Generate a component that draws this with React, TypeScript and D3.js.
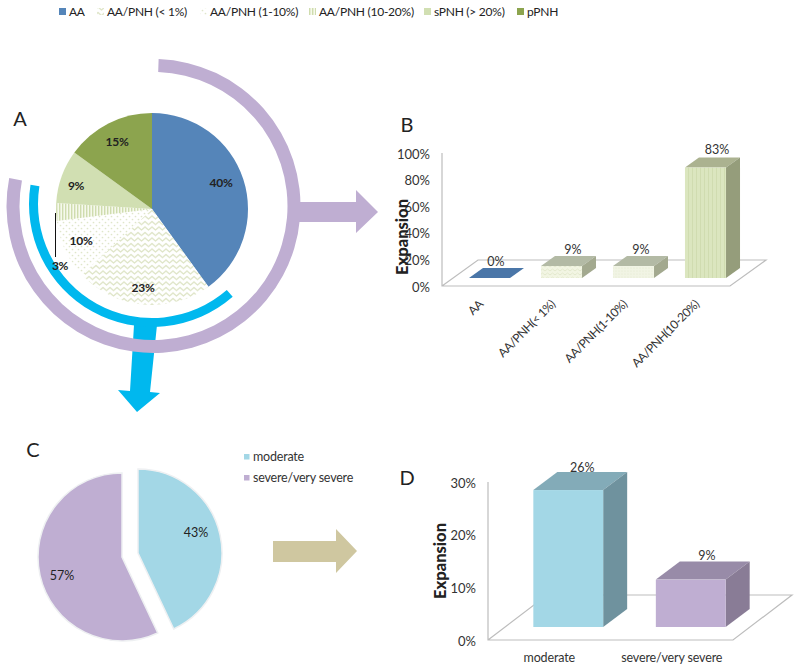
import { useEffect, useRef } from 'react';
import * as d3 from 'd3';

const FONT = 'Lato, "Open Sans", sans-serif';

// panel A
const groupNames = ['AA', 'AA/PNH (< 1%)', 'AA/PNH (1-10%)', 'AA/PNH (10-20%)', 'sPNH (> 20%)', 'pPNH'];
const groupShares = [40, 23, 10, 3, 9, 15];
const groupFills = ['#5585b9', 'url(#zigzag)', 'url(#dots)', 'url(#stripes)', '#d1dfb2', '#8ca44e'];
const legendX = [59, 97, 200, 309, 424, 517];

// panel B
const expansionCats = ['AA', 'AA/PNH(< 1%)', 'AA/PNH(1-10%)', 'AA/PNH(10-20%)'];
const expansionVals = [0, 9, 9, 83];
const expansionTicks = [0, 20, 40, 60, 80, 100];
const expansionFront = ['#4a76a8', 'url(#zigzagBar)', 'url(#dotsBar)', 'url(#stripesBar)'];
const expansionTop = ['#4a76a8', '#b3baa5', '#b3baa5', '#abb290'];
const expansionSide = ['#4a76a8', '#a3a98f', '#a3a98f', '#959d7b'];

// panel C
const severityCats = ['moderate', 'severe/very severe'];
const severityShares = [43, 57];
const severityFills = ['#a3d7e6', '#bfaed2'];

// panel D
const severityVals = [26, 9];
const severityTicks = [0, 10, 20, 30];
const severityTop = ['#83abb8', '#988ba8'];
const severitySide = ['#6f929e', '#897c96'];

type Sel = d3.Selection<SVGGElement, unknown, null, undefined>;

function label(g: Sel, x: number, y: number, text: string, size = 12, weight = 'normal', anchor = 'middle') {
  return g.append('text')
    .attr('x', x)
    .attr('y', y)
    .attr('dy', '0.35em')
    .attr('text-anchor', anchor)
    .style('font-family', FONT)
    .style('font-size', `${size}px`)
    .style('font-weight', weight)
    .style('fill', '#222')
    .text(text);
}

function arrow(g: Sel, pts: [number, number][], fill: string) {
  g.append('path').attr('d', d3.line()(pts) + 'Z').attr('fill', fill);
}

export default function App() {
  const svgRef = useRef<SVGSVGElement>(null);

  useEffect(() => {
    if (!svgRef.current) return;
    const svg = d3.select(svgRef.current);
    svg.selectAll('*').remove();

    // fill patterns
    const defs = svg.append('defs');
    const pattern = (id: string, w: number, h: number, bg: string) =>
      defs.append('pattern').attr('id', id).attr('width', w).attr('height', h)
        .attr('patternUnits', 'userSpaceOnUse')
        .call(p => { p.append('rect').attr('width', w).attr('height', h).attr('fill', bg); });
    pattern('zigzag', 7, 5.5, '#fff').append('path').attr('d', 'M-3.5,4.5 L0,1.5 L3.5,4.5 L7,1.5 L10.5,4.5')
      .attr('fill', 'none').attr('stroke', '#dbe2c0').attr('stroke-width', 1.2);
    const dots = pattern('dots', 6, 6, '#fff');
    dots.append('circle').attr('cx', 1.5).attr('cy', 1.5).attr('r', 0.85).attr('fill', '#dfe6ca');
    dots.append('circle').attr('cx', 4.5).attr('cy', 4.5).attr('r', 0.85).attr('fill', '#dfe6ca');
    pattern('stripes', 3, 3, '#f6f9ec').append('rect').attr('width', 1.4).attr('height', 3).attr('fill', '#cfdcae');
    pattern('zigzagBar', 5, 4, '#f2f5e3').append('path').attr('d', 'M0,3 L2.5,1 L5,3')
      .attr('fill', 'none').attr('stroke', '#dfe5c8').attr('stroke-width', 0.8);
    pattern('dotsBar', 3, 3, '#f1f4e4').append('circle').attr('cx', 1).attr('cy', 1).attr('r', 0.6).attr('fill', '#e3e9d0');
    pattern('stripesBar', 4, 4, '#dbe6bf').append('rect').attr('width', 1).attr('height', 4).attr('fill', '#d0dcb0');

    const root = svg.append('g') as unknown as Sel;
    const pie = d3.pie<number>().sort(null).value(d => d);

    // top legend
    groupNames.forEach((name, i) => {
      root.append('rect').attr('x', legendX[i]).attr('y', 8).attr('width', 7).attr('height', 7)
        .attr('fill', groupFills[i]);
      label(root, legendX[i] + 10, 12, name, 12, 'normal', 'start').style('letter-spacing', '-0.25px');
    });

    // panel A
    label(root, 20, 119, 'A', 20);
    const pieA = root.append('g').attr('transform', 'translate(152,209)');
    const arcA = d3.arc<d3.PieArcDatum<number>>().innerRadius(0).outerRadius(96);
    pieA.selectAll('path').data(pie(groupShares)).enter().append('path')
      .attr('d', arcA)
      .attr('fill', (_, i) => groupFills[i]);

    const deg = (d: number) => (d * Math.PI) / 180;
    arrow(root, [[134, 325], [157, 325], [150, 392], [160, 393], [137, 412], [118, 390], [130, 391]], '#00b8ee');
    root.append('path')
      .attr('transform', 'translate(152,204)')
      .attr('d', d3.arc()({ innerRadius: 114, outerRadius: 123, startAngle: deg(139), endAngle: deg(279) }))
      .attr('fill', '#00b8ee');
    arrow(root, [[294, 202], [356, 202], [356, 190], [378, 212], [356, 233], [356, 222], [294, 222]], '#bfaed2');
    root.append('path')
      .attr('transform', 'translate(153.5,206)')
      .attr('d', d3.arc()({ innerRadius: 134, outerRadius: 147, startAngle: deg(2), endAngle: deg(281) }))
      .attr('fill', '#bfaed2');

    // slice labels sit over the rings
    const groupLabelPos: [number, number][] = [[221, 183], [143, 288], [81, 241], [60, 266], [76, 186], [117, 142]];
    groupShares.forEach((v, i) => {
      label(root, groupLabelPos[i][0], groupLabelPos[i][1], `${v}%`, 12, 'bold').style('letter-spacing', '-0.3px');
    });
    root.append('line').attr('x1', 55.5).attr('x2', 55.5).attr('y1', 213).attr('y2', 257)
      .attr('stroke', '#111').attr('stroke-width', 1);

    // 3D bar panel, used by B and D
    const bars3d = (opts: {
      x: d3.ScaleBand<string>; y: d3.ScaleLinear<number, number>;
      cats: string[]; vals: number[]; front: string[]; top: string[]; side: string[];
      floorDx: number; floorDy: number; inset: number; lift: number; dx: number; dy: number;
      ticks: number[]; tickX: number; tickSize: number; wallTop: number;
      labelOffset: [number, number][];
    }) => {
      const { x, y, floorDx, floorDy, inset, lift, dx, dy } = opts;
      const [x0, x1] = x.range();
      const y0 = y(0);
      const line = d3.line();
      root.append('path')
        .attr('d', line([[x0, opts.wallTop], [x0, y0], [x1, y0], [x1 + floorDx, y0 - floorDy], [x0 + floorDx, y0 - floorDy], [x0, y0]]))
        .attr('fill', 'none').attr('stroke', '#bdbdbd').attr('stroke-width', 1.2);
      opts.ticks.forEach(t => label(root, opts.tickX, y(t) + 1, `${t}%`, opts.tickSize, 'normal', 'end').style('fill', '#333'));
      opts.cats.forEach((c, i) => {
        const left = (x(c) as number) + inset;
        const right = left + x.bandwidth();
        const base = y0 - lift;
        const top = y(opts.vals[i]) - lift;
        root.append('path').attr('d', line([[left, top], [right, top], [right + dx, top - dy], [left + dx, top - dy]]) + 'Z').attr('fill', opts.top[i]);
        root.append('path').attr('d', line([[right, top], [right + dx, top - dy], [right + dx, base - dy], [right, base]]) + 'Z').attr('fill', opts.side[i]);
        root.append('rect').attr('x', left).attr('y', top).attr('width', x.bandwidth()).attr('height', base - top).attr('fill', opts.front[i]);
        const [ox, oy] = opts.labelOffset[i];
        label(root, left + ox, top + oy, `${opts.vals[i]}%`, 12.5).style('fill', '#333');
      });
    };

    // panel B
    label(root, 407, 125, 'B', 20);
    const xB = d3.scaleBand<string>().domain(expansionCats).range([442, 730]).paddingInner(0.43).paddingOuter(0.215);
    const yB = d3.scaleLinear().domain([0, 100]).range([286, 153]);
    bars3d({
      x: xB, y: yB, cats: expansionCats, vals: expansionVals,
      front: expansionFront, top: expansionTop, side: expansionSide,
      floorDx: 36, floorDy: 26, inset: 11.5, lift: 8, dx: 14, dy: 10,
      ticks: expansionTicks, tickX: 430, tickSize: 13, wallTop: 153,
      labelOffset: [[27, -16], [32, -16], [28, -16], [32, -18]],
    });
    expansionCats.forEach(c => {
      const px = (xB(c) as number) + 23.5;
      root.append('text')
        .attr('transform', `translate(${px},302) rotate(-45)`)
        .attr('text-anchor', 'end')
        .attr('dy', '0.35em')
        .style('font-family', FONT).style('font-size', '12px').style('fill', '#333')
        .style('letter-spacing', '-0.45px')
        .text(c);
    });
    label(root, 0, 0, 'Expansion', 16.5, '900').attr('transform', 'translate(402,237) rotate(-90)');

    // panel C
    label(root, 33, 450, 'C', 20);
    const arcC = d3.arc<d3.PieArcDatum<number>>().innerRadius(0).outerRadius(84);
    const slicesC = pie(severityShares);
    const centersC = [[138, 553], [122, 557]];
    slicesC.forEach((s, i) => {
      root.append('path')
        .attr('transform', `translate(${centersC[i][0]},${centersC[i][1]})`)
        .attr('d', arcC(s))
        .attr('fill', severityFills[i])
        .attr('stroke', '#eef0f2').attr('stroke-width', 1.5);
    });
    label(root, 196, 533, `${severityShares[0]}%`, 12.5);
    label(root, 62, 576, `${severityShares[1]}%`, 12.5);
    severityCats.forEach((c, i) => {
      root.append('rect').attr('x', 244).attr('y', 454 + i * 21).attr('width', 5.5).attr('height', 5.5).attr('fill', severityFills[i]);
      label(root, 253, 457 + i * 21, c, 12.5, 'normal', 'start').style('fill', '#333').style('letter-spacing', '-0.2px');
    });
    arrow(root, [[273, 541], [336, 541], [336, 529], [357, 551], [336, 573], [336, 562], [273, 562]], '#cfc7a0');

    // panel D
    label(root, 407, 478, 'D', 20);
    const xD = d3.scaleBand<string>().domain(severityCats).range([488, 733]).paddingInner(0.43).paddingOuter(0.215);
    const yD = d3.scaleLinear().domain([0, 30]).range([640, 482]);
    bars3d({
      x: xD, y: yD, cats: severityCats, vals: severityVals,
      front: severityFills, top: severityTop, side: severitySide,
      floorDx: 59, floorDy: 45, inset: 19, lift: 13, dx: 24, dy: 18,
      ticks: severityTicks, tickX: 476, tickSize: 13, wallTop: 482,
      labelOffset: [[49, -22], [51, -24]],
    });
    severityCats.forEach(c => {
      label(root, (xD(c) as number) + xD.bandwidth() / 2, 658, c, 12.5).style('fill', '#333').style('letter-spacing', '-0.15px');
    });
    label(root, 0, 0, 'Expansion', 16.5, '900').attr('transform', 'translate(440,561) rotate(-90)');
  }, []);

  return <svg ref={svgRef} width={800} height={671} style={{ position: 'absolute', left: 0, top: 0, background: '#fff' }}></svg>;
}
